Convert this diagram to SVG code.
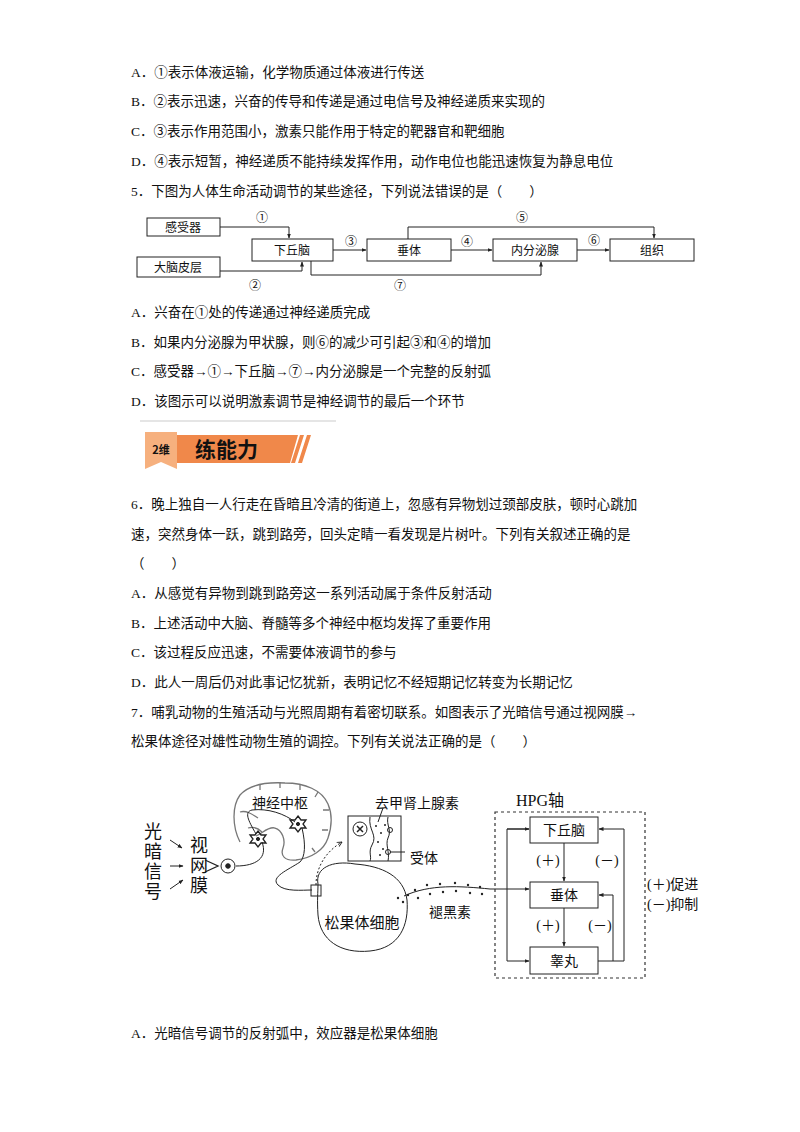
<svg xmlns="http://www.w3.org/2000/svg" width="800" height="1132" viewBox="0 0 800 1132">
<style>
text{font-family:"Liberation Serif","Noto Sans CJK SC",serif;fill:#111}
.t{font-size:13.5px}
.b{fill:#fff;stroke:#222;stroke-width:1}
.c{fill:none;stroke:#222;stroke-width:1}
.s{font-size:12px}
.d{font-size:15px}
.m{font-family:"Noto Sans CJK SC",sans-serif}
</style>
<defs>
<marker id="a" viewBox="0 0 10 10" refX="9" refY="5" markerWidth="5" markerHeight="5" orient="auto"><path d="M0,1L10,5L0,9z" fill="#222"/></marker>
<marker id="o" viewBox="0 0 10 10" refX="9" refY="5" markerWidth="6" markerHeight="6" orient="auto"><path d="M1,1L9,5L1,9" fill="none" stroke="#222" stroke-width="1.5"/></marker>
</defs>
<rect width="800" height="1132" fill="#fff"/>
<g id="text-top" class="t">
<text x="131" y="77" class="t">A．①表示体液运输，化学物质通过体液进行传送</text>
<text x="131" y="106" class="t">B．②表示迅速，兴奋的传导和传递是通过电信号及神经递质来实现的</text>
<text x="131" y="136" class="t">C．③表示作用范围小，激素只能作用于特定的靶器官和靶细胞</text>
<text x="131" y="166" class="t">D．④表示短暂，神经递质不能持续发挥作用，动作电位也能迅速恢复为静息电位</text>
<text x="131" y="196" class="t">5．下图为人体生命活动调节的某些途径，下列说法错误的是（　　）</text>
</g>
<g id="d1-nodes">
<g id="n-gsq"><rect class="b" x="147" y="218" width="73" height="18"/><text x="183" y="232" text-anchor="middle" class="s m">感受器</text></g>
<g id="n-dnpc"><rect class="b" x="137" y="257" width="83" height="20"/><text x="178" y="272" text-anchor="middle" class="s m">大脑皮层</text></g>
<g id="n-xqn"><rect class="b" x="252" y="239" width="81" height="22"/><text x="292" y="255" text-anchor="middle" class="s m">下丘脑</text></g>
<g id="n-ct"><rect class="b" x="367" y="239" width="84" height="22"/><text x="409" y="255" text-anchor="middle" class="s m">垂体</text></g>
<g id="n-nfmx"><rect class="b" x="493" y="239" width="84" height="22"/><text x="535" y="255" text-anchor="middle" class="s m">内分泌腺</text></g>
<g id="n-zz"><rect class="b" x="610" y="239" width="84" height="22"/><text x="652" y="255" text-anchor="middle" class="s m">组织</text></g>
</g>
<g id="d1-conn" class="c">
<path d="M220,227H289V238" marker-end="url(#a)"/>
<path d="M220,271H302V262" marker-end="url(#a)"/>
<path d="M333,250H366" marker-end="url(#a)"/>
<path d="M451,250H492" marker-end="url(#a)"/>
<path d="M577,250H609" marker-end="url(#a)"/>
<path d="M408,239V227H654V238" marker-end="url(#a)"/>
<path d="M311,261V275H541V262" marker-end="url(#a)"/>
</g>
<g id="d1-labels" class="s">
<text x="262" y="222" text-anchor="middle">①</text>
<text x="255" y="290" text-anchor="middle">②</text>
<text x="351" y="246" text-anchor="middle">③</text>
<text x="467" y="246" text-anchor="middle">④</text>
<text x="522" y="222" text-anchor="middle">⑤</text>
<text x="594" y="245" text-anchor="middle">⑥</text>
<text x="400" y="290" text-anchor="middle">⑦</text>
</g>
<g id="text-mid" class="t">
<text x="131" y="317" class="t">A．兴奋在①处的传递通过神经递质完成</text>
<text x="131" y="347" class="t">B．如果内分泌腺为甲状腺，则⑥的减少可引起③和④的增加</text>
<text x="131" y="376" class="t">C．感受器→①→下丘脑→⑦→内分泌腺是一个完整的反射弧</text>
<text x="131" y="406" class="t">D．该图示可以说明激素调节是神经调节的最后一个环节</text>
</g>
<g id="header">
<line x1="140" y1="421" x2="336" y2="421" stroke="#ddd" stroke-width="1.5"/>
<path d="M177,435H298L290,463H177z" fill="#f0884a"/>
<path d="M300,435h4l-9,28h-4z M307,435h4l-9,28h-4z" fill="#f0884a"/>
<path d="M145,432H177V469L161,462L145,469z" fill="#f6b07e"/>
<text x="161" y="454" text-anchor="middle" style="font-family:'Noto Sans CJK SC',sans-serif;font-size:11px;font-weight:bold">2维</text>
<text x="195" y="457" style="font-family:'Noto Sans CJK SC',sans-serif;font-size:21px;font-weight:bold">练能力</text>
</g>
<g id="text-q6" class="t">
<text x="131" y="509" class="t">6．晚上独自一人行走在昏暗且冷清的街道上，忽感有异物划过颈部皮肤，顿时心跳加</text>
<text x="131" y="539" class="t">速，突然身体一跃，跳到路旁，回头定睛一看发现是片树叶。下列有关叙述正确的是</text>
<text x="131" y="568" class="t">（　　）</text>
<text x="131" y="598" class="t">A．从感觉有异物到跳到路旁这一系列活动属于条件反射活动</text>
<text x="131" y="628" class="t">B．上述活动中大脑、脊髓等多个神经中枢均发挥了重要作用</text>
<text x="131" y="657" class="t">C．该过程反应迅速，不需要体液调节的参与</text>
<text x="131" y="687" class="t">D．此人一周后仍对此事记忆犹新，表明记忆不经短期记忆转变为长期记忆</text>
<text x="131" y="717" class="t">7．哺乳动物的生殖活动与光照周期有着密切联系。如图表示了光暗信号通过视网膜→</text>
<text x="131" y="746" class="t">松果体途径对雄性动物生殖的调控。下列有关说法正确的是（　　）</text>
</g>
<g id="d2-left">
<g id="light" class="d">
<text x="153" y="838" text-anchor="middle" font-size="18">光</text>
<text x="153" y="858" text-anchor="middle" font-size="18">暗</text>
<text x="153" y="878" text-anchor="middle" font-size="18">信</text>
<text x="153" y="898" text-anchor="middle" font-size="18">号</text>
<text x="199" y="852" text-anchor="middle" font-size="18">视</text>
<text x="199" y="872" text-anchor="middle" font-size="18">网</text>
<text x="199" y="892" text-anchor="middle" font-size="18">膜</text>
</g>
<g class="c" stroke-width="1.3">
<path d="M170,840L182,848" marker-end="url(#a)"/>
<path d="M170,866L183,866" marker-end="url(#a)"/>
<path d="M170,889L183,880" marker-end="url(#a)"/>
</g>
<g id="brain" fill="none" stroke="#777" stroke-width="1.3">
<path d="M240,842C232,826 232,806 240,795C250,784 268,782 285,783C305,783 322,790 328,804C334,818 330,832 328,838C324,850 312,858 296,860C285,861 280,856 283,848C286,840 282,830 275,828C268,826 262,834 256,836"/>
<path d="M240,812c6,-2 12,2 18,6M248,828c6,-2 10,0 14,4"/>
<path d="M260,784v6M280,782v6M300,784v6M318,792l-3,5M329,810h-6M328,830h-6M315,852l-3,-4"/>
</g>
<text x="280" y="808" text-anchor="middle" style="font-size:14px">神经中枢</text>
<g id="neurons" class="c" stroke-width="1.8">
<path d="M236,866C256,866 268,858 262,842"/>
<path d="M256,834C248,820 244,812 252,810C268,808 285,814 295,822"/>
<path d="M302,828C306,845 305,857 300,862C288,870 270,877 278,885C285,892 302,890 312,890"/>
<path d="M205,860L218,866L205,872" stroke-width="1.3"/>
<circle cx="228" cy="866" r="7"/>
<circle cx="228" cy="866" r="2.3" fill="#222"/>
<path d="M258,831l3,4 5,0 -3,4 3,4 -5,0 -3,4 -3,-4 -5,0 3,-4 -3,-4 5,0z" stroke-width="1.3"/>
<path d="M298,816l3,4 5,0 -3,4 3,4 -5,0 -3,4 -3,-4 -5,0 3,-4 -3,-4 5,0z" stroke-width="1.3"/>
<circle cx="258" cy="839" r="1.6" fill="#222"/>
<circle cx="298" cy="824" r="1.6" fill="#222"/>
</g>
<g id="pineal">
<path d="M318,884C315,868 332,860 355,864C382,866 404,876 407,900C409,925 400,948 370,951C340,954 320,940 318,915C317,900 318,892 318,884z" class="c" stroke-width="1.6"/>
<rect x="311" y="885" width="10" height="11" class="c" stroke-width="1.3"/>
<path d="M316,885C316,868 325,852 342,842" class="c" stroke-dasharray="2,2" stroke-width="1.3" marker-end="url(#o)"/>
<text x="362" y="928" text-anchor="middle" style="font-size:15px">松果体细胞</text>
</g>
<g id="inset">
<rect x="348" y="816" width="53" height="45" class="c" stroke-width="1.6"/>
<circle cx="360" cy="829" r="7" class="c" stroke-width="2.2"/>
<path d="M357,826l6,6M363,826l-6,6" stroke="#222" stroke-width="1.5"/>
<path d="M370,817C368,830 378,835 372,845C368,852 372,857 370,861" class="c" stroke-width="1.5"/>
<path d="M388,817C386,825 392,830 388,838C385,845 390,852 388,861" class="c"/>
<g fill="#222"><circle cx="376" cy="826" r="1"/><circle cx="381" cy="833" r="1"/><circle cx="378" cy="842" r="1"/><circle cx="383" cy="849" r="1"/><circle cx="380" cy="855" r="1"/><circle cx="385" cy="825" r="1"/></g>
<circle cx="390" cy="830" r="2.5" class="c"/>
<circle cx="388" cy="852" r="2.5" class="c"/>
<path d="M390,852H405" class="c"/>
<path d="M383,808L378,822" class="c"/>
<text x="375" y="808" style="font-size:14px">去甲肾上腺素</text>
<text x="410" y="863" style="font-size:14px">受体</text>
</g>
<g id="melatonin">
<path d="M404,896C430,884 460,886 490,889H529" class="c" stroke-width="1.3" marker-end="url(#a)"/>
<g fill="#222">
<circle cx="398" cy="898" r="1.2"/><circle cx="403" cy="902" r="1.2"/><circle cx="408" cy="895" r="1.2"/><circle cx="415" cy="890" r="1.2"/><circle cx="418" cy="898" r="1.2"/><circle cx="427" cy="885" r="1.2"/><circle cx="430" cy="894" r="1.2"/><circle cx="440" cy="884" r="1.2"/><circle cx="443" cy="892" r="1.2"/><circle cx="455" cy="883" r="1.2"/><circle cx="456" cy="891" r="1.2"/><circle cx="468" cy="885" r="1.2"/><circle cx="470" cy="893" r="1.2"/><circle cx="480" cy="887" r="1.2"/><circle cx="482" cy="894" r="1.2"/>
</g>
<text x="450" y="917" text-anchor="middle" style="font-size:14px">褪黑素</text>
</g>
</g>
<g id="hpg">
<rect x="495" y="812" width="150" height="166" fill="none" stroke="#333" stroke-dasharray="3,3" stroke-width="1.2"/>
<text x="540" y="806" text-anchor="middle" style="font-size:16px">HPG轴</text>
<g id="h-xqn"><rect class="b" x="530" y="817" width="68" height="26" stroke-width="1.3"/><text x="564" y="835" text-anchor="middle" style="font-size:14px">下丘脑</text></g>
<g id="h-ct"><rect class="b" x="530" y="882" width="68" height="26" stroke-width="1.3"/><text x="564" y="900" text-anchor="middle" style="font-size:14px">垂体</text></g>
<g id="h-gw"><rect class="b" x="530" y="947" width="68" height="27" stroke-width="1.3"/><text x="564" y="966" text-anchor="middle" style="font-size:14px">睾丸</text></g>
<g class="c" stroke-width="1.2">
<path d="M564,843V881" marker-end="url(#a)"/>
<path d="M564,908V946" marker-end="url(#a)"/>
<path d="M529,829H507V961H529" marker-end="url(#a)"/>
<path d="M507,829H529" marker-end="url(#a)"/>
<path d="M598,961H624V829H599" marker-end="url(#a)"/>
<path d="M613,961V895H599" marker-end="url(#a)"/>
</g>
<g style="font-size:14px">
<text x="548" y="865" text-anchor="middle">(＋)</text>
<text x="548" y="930" text-anchor="middle">(＋)</text>
<text x="607" y="865" text-anchor="middle">(－)</text>
<text x="600" y="930" text-anchor="middle">(－)</text>
<text x="647" y="889">(＋)促进</text>
<text x="647" y="909">(－)抑制</text>
</g>
</g>
<text x="131" y="1038" class="t">A．光暗信号调节的反射弧中，效应器是松果体细胞</text>
</svg>
